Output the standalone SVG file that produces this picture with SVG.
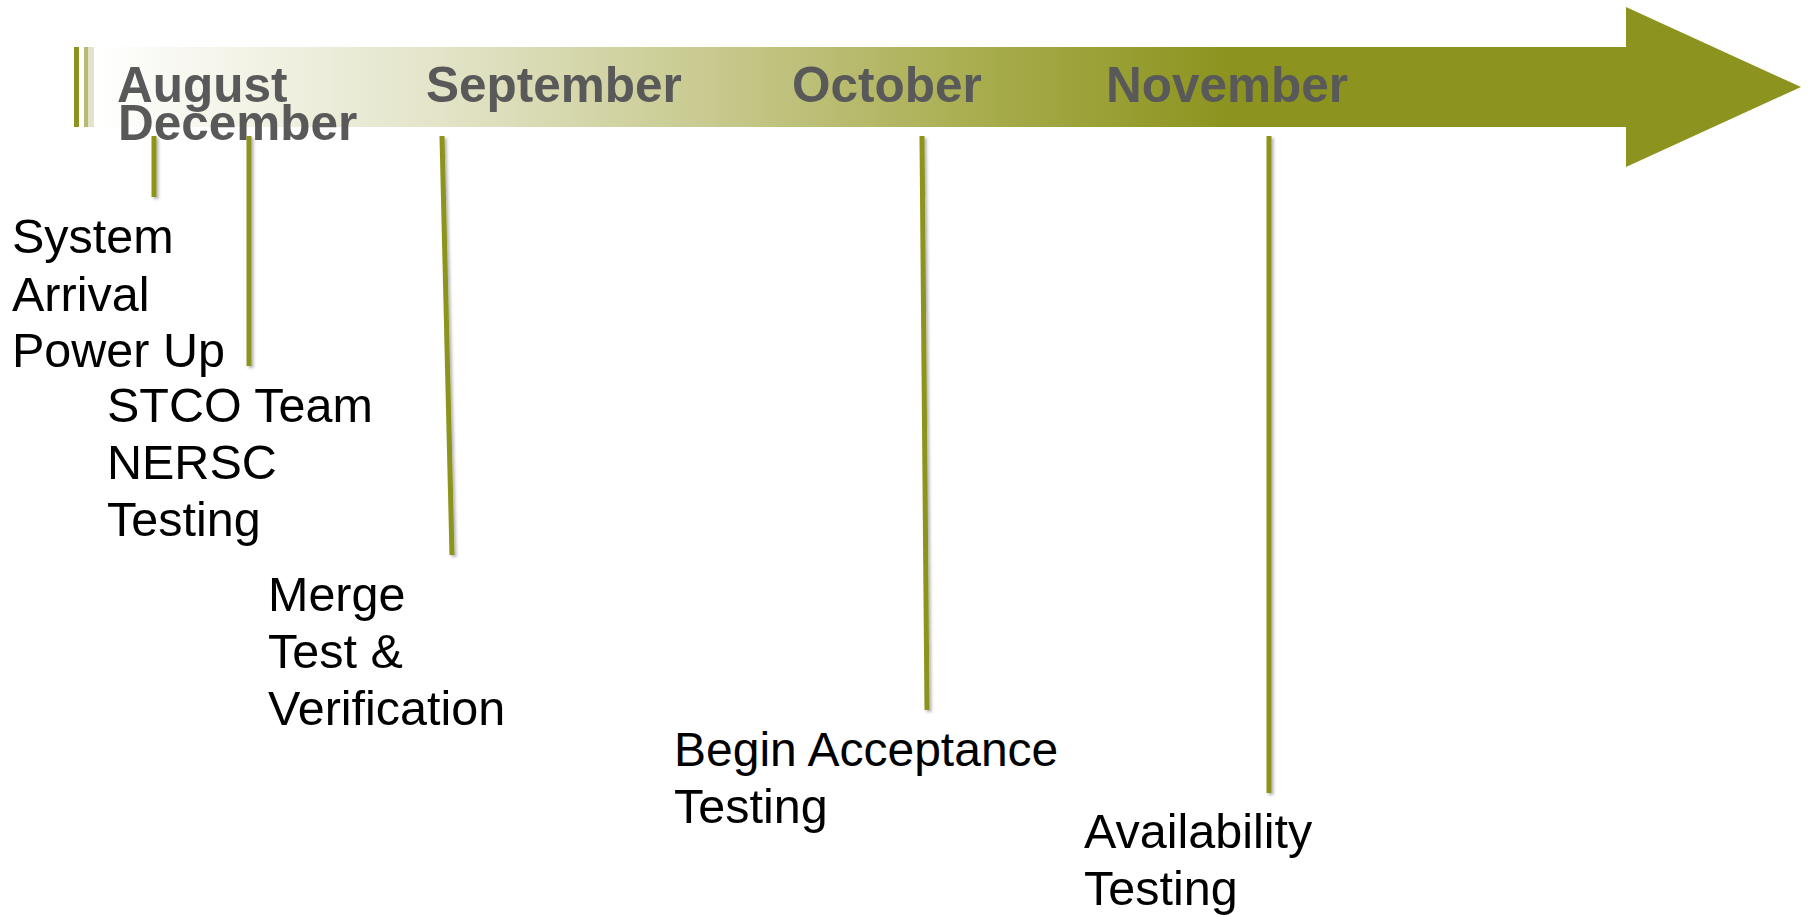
<svg xmlns="http://www.w3.org/2000/svg" width="1810" height="917" viewBox="0 0 1810 917">
<style>
.month{font-family:"Liberation Sans",Arial,sans-serif;font-weight:bold;font-size:49.5px;fill:#595959}
.lbl{font-family:"Liberation Sans",Arial,sans-serif;font-size:48.5px;fill:#000}
.conn{stroke:#8c941f;stroke-width:5;fill:none}
</style>
<defs>
<linearGradient id="g" gradientUnits="userSpaceOnUse" x1="94" y1="0" x2="1626" y2="0">
<stop offset="0" stop-color="#ffffff"/>
<stop offset="0.24" stop-color="#e1e2c4"/>
<stop offset="0.4" stop-color="#c8ca8f"/>
<stop offset="0.59" stop-color="#a6ab4a"/>
<stop offset="0.74" stop-color="#8c941f"/>
<stop offset="1" stop-color="#8c941f"/>
</linearGradient>
<filter id="sh" filterUnits="userSpaceOnUse" x="0" y="0" width="1810" height="917">
<feDropShadow dx="2" dy="2" stdDeviation="1.5" flood-color="#000" flood-opacity="0.3"/>
</filter>
</defs>
<g id="timeline">
<rect x="74" y="47" width="5" height="80" fill="#8c941f"/>
<rect x="84" y="47" width="4" height="80" fill="#b9ba73"/>
<rect x="88" y="47" width="6" height="80" fill="#e2e3c8"/>
<rect x="94" y="47" width="1533" height="80" fill="url(#g)"/>
<polygon points="1626,7 1801,87 1626,167" fill="#8c941f"/>
</g>
<g id="months">
<text class="month" x="117" y="102">August</text>
<text class="month" x="118" y="140">December</text>
<text class="month" x="426" y="102">September</text>
<text class="month" x="792" y="102">October</text>
<text class="month" x="1106" y="102">November</text>
</g>
<g id="connectors" filter="url(#sh)">
<line class="conn" x1="154" y1="136" x2="154" y2="197"/>
<line class="conn" x1="249" y1="136" x2="249" y2="366"/>
<line class="conn" x1="442" y1="136" x2="452" y2="555"/>
<line class="conn" x1="922" y1="136" x2="927" y2="710"/>
<line class="conn" x1="1269" y1="136" x2="1269" y2="793"/>
</g>
<g id="system-arrival">
<text class="lbl" x="12" y="253">System</text>
<text class="lbl" x="12" y="311">Arrival</text>
<text class="lbl" x="12" y="367">Power Up</text>
</g>
<g id="stco-testing">
<text class="lbl" x="107" y="422">STCO Team</text>
<text class="lbl" x="107" y="479">NERSC</text>
<text class="lbl" x="107" y="536">Testing</text>
</g>
<g id="merge">
<text class="lbl" x="268" y="611">Merge</text>
<text class="lbl" x="268" y="668">Test &amp;</text>
<text class="lbl" x="268" y="725">Verification</text>
</g>
<g id="acceptance">
<text class="lbl" x="674" y="766" style="font-size:48px">Begin Acceptance</text>
<text class="lbl" x="674" y="823">Testing</text>
</g>
<g id="availability">
<text class="lbl" x="1084" y="848">Availability</text>
<text class="lbl" x="1084" y="905">Testing</text>
</g>
</svg>
